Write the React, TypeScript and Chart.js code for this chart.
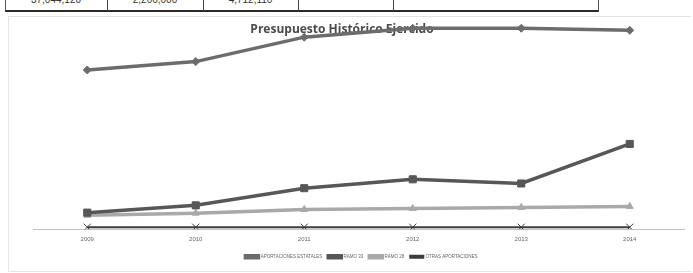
import React, { useEffect, useRef } from "react";
import { Chart, registerables } from "chart.js";

Chart.register(...registerables);

const years = ["2009", "2010", "2011", "2012", "2013", "2014"];
const aportacionesEstatales = [153, 161, 184.5, 193, 193, 191];
const ramo33 = [16, 23, 39.5, 48, 44, 82];
const ramo28 = [13.5, 15.5, 19, 20, 21, 22];
const otrasAportaciones = [2, 2, 2, 2, 2, 2];
const seriesNames = ["APORTACIONES ESTATALES", "RAMO 33", "RAMO 28", "OTRAS APORTACIONES"];
const tableValues = ["37,044,120", "2,206,000", "4,712,110", "", ""];
const chartTitle = "Presupuesto Histórico Ejercido";

const titlePlugin = {
  id: "innerTitle",
  beforeDatasetsDraw(chart: any) {
    const { ctx } = chart;
    ctx.save();
    ctx.font = "bold 12px 'Open Sans', sans-serif";
    ctx.fillStyle = "#4a4a4a";
    ctx.textAlign = "center";
    ctx.textBaseline = "middle";
    ctx.fillText(chartTitle, 334, 15);
    ctx.restore();
  },
};

export default function App() {
  const ref = useRef<HTMLCanvasElement | null>(null);

  useEffect(() => {
    document.body.style.margin = "0";
    document.body.style.background = "#fff";
    const ctx = ref.current!.getContext("2d")!;
    const mk = (label: string, data: number[], color: string, style: string, r: number, w: number) => ({
      label,
      data,
      borderColor: color,
      backgroundColor: color,
      pointBackgroundColor: color,
      pointBorderColor: color,
      pointStyle: style,
      pointRadius: r,
      borderWidth: w,
      pointBorderWidth: 1,
      tension: 0,
    });
    const chart = new Chart(ctx, {
      type: "line",
      data: {
        labels: years,
        datasets: [
          mk(seriesNames[0], aportacionesEstatales, "#6c6c6c", "rectRot", 4, 3.5),
          mk(seriesNames[1], ramo33, "#575757", "rect", 5, 3.5),
          mk(seriesNames[2], ramo28, "#a9a9a9", "triangle", 4, 3.5),
          { ...mk(seriesNames[3], otrasAportaciones, "#3c3c3c", "crossRot", 5, 2), pointBorderWidth: 1 },
        ],
      },
      plugins: [titlePlugin],
      options: {
        animation: false,
        responsive: false,
        maintainAspectRatio: false,
        layout: { padding: { left: 25, right: 0, top: 4, bottom: 2 } },
        plugins: {
          legend: {
            position: "bottom",
            labels: {
              boxWidth: 13,
              boxHeight: 2,
              padding: 6,
              color: "#666",
              font: { size: 4.5, family: "'Liberation Sans', sans-serif" },
            },
          },
          title: { display: false },
          tooltip: { enabled: false },
        },
        scales: {
          x: {
            offset: true,
            grid: { display: false, drawTicks: false },
            border: { display: true, color: "#c4c4c4", width: 1 },
            ticks: { color: "#666", font: { size: 6, family: "'Liberation Sans', sans-serif" }, padding: 6 },
          },
          y: { display: false, min: 0, max: 200 },
        },
      },
    });
    return () => chart.destroy();
  }, []);

  const seps = [5, 107, 203, 298, 393, 597];
  return (
    <div style={{ position: "relative", width: 693, height: 273, background: "#fff", overflow: "hidden", fontFamily: "'Liberation Sans', sans-serif" }}>
      <div style={{ position: "absolute", left: 5, top: 0, width: 592, height: 10, borderBottom: "2px solid #2a2a2a", borderLeft: "1px solid #555", borderRight: "1px solid #555" }} />
      {seps.slice(1, 5).map((x, i) => (
        <div key={i} style={{ position: "absolute", left: x, top: 0, width: 1, height: 11, background: "#444" }} />
      ))}
      {tableValues.map((t, i) => (
        <div key={"t" + i} style={{ position: "absolute", left: seps[i], width: seps[i + 1] - seps[i], top: -9, height: 17, textAlign: "center", fontSize: 10, color: "#333", lineHeight: "17px" }}>{t}</div>
      ))}
      <div style={{ position: "absolute", left: 8, top: 16, width: 682, height: 254, borderTop: "1px solid #e2e2e2", borderLeft: "1px solid #e6e6e6", borderBottom: "1px solid #e6e6e6" }} />
      <canvas ref={ref} width={682} height={256} style={{ position: "absolute", left: 8, top: 15, width: 682, height: 256 }} />
    </div>
  );
}
